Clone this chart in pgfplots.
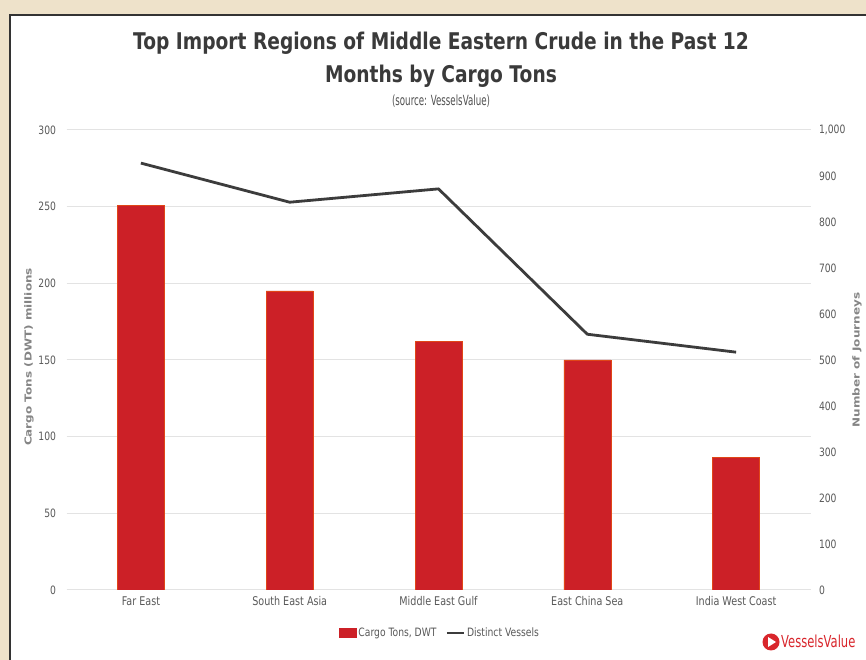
\documentclass[border=0pt]{standalone}
\usepackage{pgfplots}
\pgfplotsset{compat=1.18}
\usepackage{fontspec}
\setmainfont{DejaVu Sans}[FakeStretch=0.8]
\newfontfamily\titlefont{DejaVu Sans}[FakeStretch=0.81]
\newfontfamily\subfont{DejaVu Sans}[FakeStretch=0.7]
\newfontfamily\subtfont{DejaVu Sans}[FakeStretch=0.62]
\newfontfamily\labfont{DejaVu Sans}
\definecolor{beige}{HTML}{EEE2CA}
\definecolor{barred}{HTML}{CC2027}
\definecolor{linegray}{HTML}{3C3C3C}
\definecolor{gridgray}{HTML}{E3E3E3}
\definecolor{txtgray}{HTML}{595959}
\definecolor{labgray}{HTML}{858585}
\definecolor{titlegray}{HTML}{3A3A3A}
\definecolor{logored}{HTML}{D9262C}
\begin{document}
\begin{tikzpicture}
\fill[beige] (0pt,0pt) rectangle (866pt,660pt);
\path[use as bounding box] (0pt,0pt) rectangle (866pt,660pt);
\fill[white] (10pt,-10pt) rectangle (880pt,645pt);
\draw[black!80, line width=2.5pt] (10pt,-10pt) -- (10pt,645pt) -- (880pt,645pt);

% titles
\node[anchor=base, text=titlegray, font=\titlefont\bfseries\fontsize{23}{26}\selectfont] at (441pt,610pt) {Top Import Regions of Middle Eastern Crude in the Past 12};
\node[anchor=base, text=titlegray, font=\titlefont\bfseries\fontsize{23}{26}\selectfont] at (441pt,577pt) {Months by Cargo Tons};
\node[anchor=base, text=txtgray!90!black, font=\subtfont\fontsize{14}{16}\selectfont] at (441pt,554pt) {(source: VesselsValue)};

% axis titles
\node[rotate=90, yscale=0.8, text=labgray, font=\labfont\bfseries\fontsize{12}{14}\selectfont] at (29pt,303pt) {Cargo Tons (DWT) millions};
\node[rotate=90, yscale=0.8, text=labgray, font=\labfont\bfseries\fontsize{12}{14}\selectfont] at (857pt,300pt) {Number of Journeys};

\begin{axis}[
  name=ax1,
  at={(66.5pt,70pt)}, anchor=south west,
  width=744pt, height=460pt, scale only axis,
  xmin=-0.5, xmax=4.5, ymin=0, ymax=300,
  xtick={0,1,2,3,4},
  xticklabels={Far East,South East Asia,Middle East Gulf,East China Sea,India West Coast},
  ytick={0,50,...,300},
  axis line style={draw=none},
  major tick length=0pt,
  ymajorgrids, grid style={gridgray, line width=1pt},
  tick label style={text=txtgray},
  /pgf/number format/assume math mode=true,
  yticklabel style={font=\fontsize{11.5}{13}\selectfont, xshift=-7pt},
  xticklabel style={font=\fontsize{12}{14}\selectfont, yshift=-3pt},
  legend style={at={(0.502,-0.0935)}, anchor=center, draw=none, fill=none,
    legend columns=2, font=\fontsize{11.5}{13}\selectfont, text=txtgray,
    /tikz/every even column/.append style={column sep=7pt},
    legend cell align=left},
]
\addplot[ybar, bar width=47pt, fill=barred, draw=orange!40!barred, line width=0.4pt,
  legend image code/.code={\fill[barred] (0pt,-4.5pt) rectangle (17pt,4.5pt);}]
  coordinates {(0,251) (1,195) (2,162) (3,150) (4,86.5)};
\addlegendentry{Cargo Tons, DWT}
\addlegendimage{legend image code/.code={\draw[linegray, line width=2.5pt] (0pt,0pt) -- (17pt,0pt);}}
\addlegendentry{Distinct Vessels}
\end{axis}

\begin{axis}[
  at={(ax1.south west)}, anchor=south west,
  width=744pt, height=460pt, scale only axis,
  xmin=-0.5, xmax=4.5, ymin=0, ymax=1000,
  axis x line=none, axis y line*=right,
  axis line style={draw=none},
  major tick length=0pt,
  ytick={0,100,...,1000},
  /pgf/number format/1000 sep={,},
  /pgf/number format/assume math mode=true,
  yticklabel style={font=\fontsize{11.5}{13}\selectfont, text=txtgray, xshift=5pt},
]
\addplot[linegray, line width=2.8pt, line join=round] coordinates {(0,928) (1,843) (2,872) (3,556) (4,517)};
\end{axis}

% logo
\fill[logored] (771pt,18pt) circle (8.5pt);
\fill[white] (768pt,23pt) -- (776pt,18pt) -- (768pt,13pt) -- cycle;
\node[anchor=base west, text=logored, font=\subfont\fontsize{16.5}{18}\selectfont, inner sep=0pt] at (781pt,12pt) {VesselsValue};
\end{tikzpicture}
\end{document}
